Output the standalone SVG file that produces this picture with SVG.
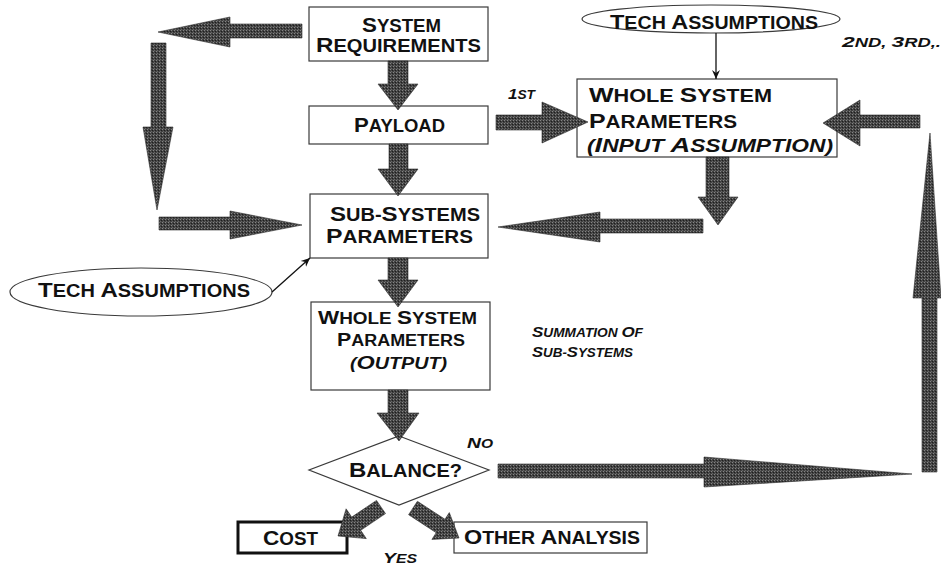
<svg xmlns="http://www.w3.org/2000/svg" width="941" height="566" viewBox="0 0 941 566">
  <defs>
    <!-- halftone-like grain for the block arrows -->
    <pattern id="grain" width="3" height="3" patternUnits="userSpaceOnUse">
      <rect width="3" height="3" fill="#424242"/>
      <rect x="0" y="0" width="1" height="1" fill="#858585"/>
      <rect x="2" y="1" width="1" height="1" fill="#1e1e1e"/>
      <rect x="1" y="2" width="1" height="1" fill="#666"/>
    </pattern>
    <marker id="tip" markerWidth="10" markerHeight="10" refX="9" refY="5" orient="auto" markerUnits="userSpaceOnUse">
      <path d="M0,1 L9,5 L0,9 L3,5 z" fill="#111"/>
    </marker>
  </defs>
  <style>
    .box { fill: #fff; stroke: #3a3a3a; stroke-width: 1.2; }
    .thick { fill: #fff; stroke: #111; stroke-width: 3; }
    .ell { fill: #fff; stroke: #3a3a3a; stroke-width: 1.2; }
    .t { font-family: "Liberation Sans", Arial, sans-serif; font-weight: bold; fill: #111; font-size: 17.5px; }
    .t .B { font-size: 21px; }
    .t.c { font-size: 16px; }
    .t.c .B { font-size: 19px; }
    .i { font-style: italic; }
    .sm { font-size: 12.5px; }
    .sm .B { font-size: 15.5px; }
    .blk { fill: url(#grain); stroke: #2e2e2e; stroke-width: 0.6; }
    .thin { stroke: #111; stroke-width: 1.3; fill: none; marker-end: url(#tip); }
  </style>

  <rect width="941" height="566" fill="#fff"/>

  <g id="system-requirements">
    <rect class="box" x="309" y="7" width="179" height="54"/>
    <text class="t" x="362" y="32" textLength="79" lengthAdjust="spacingAndGlyphs"><tspan class="B">S</tspan>YSTEM</text>
    <text class="t" x="316" y="52" textLength="165" lengthAdjust="spacingAndGlyphs"><tspan class="B">R</tspan>EQUIREMENTS</text>
  </g>

  <g id="payload">
    <rect class="box" x="309" y="106" width="179" height="38"/>
    <text class="t" x="354" y="132" textLength="91" lengthAdjust="spacingAndGlyphs"><tspan class="B">P</tspan>AYLOAD</text>
  </g>

  <g id="subsystems-parameters">
    <rect class="box" x="310" y="194" width="178" height="64"/>
    <text class="t" x="330" y="221" textLength="150" lengthAdjust="spacingAndGlyphs"><tspan class="B">S</tspan>UB-<tspan class="B">S</tspan>YSTEMS</text>
    <text class="t" x="326" y="243" textLength="147" lengthAdjust="spacingAndGlyphs"><tspan class="B">P</tspan>ARAMETERS</text>
  </g>

  <g id="whole-system-output">
    <rect class="box" x="311" y="302" width="179" height="88"/>
    <text class="t c" x="318" y="324" textLength="159" lengthAdjust="spacingAndGlyphs"><tspan class="B">W</tspan>HOLE <tspan class="B">S</tspan>YSTEM</text>
    <text class="t c" x="337" y="346" textLength="128" lengthAdjust="spacingAndGlyphs"><tspan class="B">P</tspan>ARAMETERS</text>
    <text class="t c i" x="350" y="369" textLength="97" lengthAdjust="spacingAndGlyphs">(<tspan class="B">O</tspan>UTPUT)</text>
  </g>

  <g id="summation-note">
    <text class="t i sm" x="532" y="337" textLength="111" lengthAdjust="spacingAndGlyphs"><tspan class="B">S</tspan>UMMATION <tspan class="B">O</tspan>F</text>
    <text class="t i sm" x="532" y="357" textLength="101" lengthAdjust="spacingAndGlyphs"><tspan class="B">S</tspan>UB-<tspan class="B">S</tspan>YSTEMS</text>
  </g>

  <g id="whole-system-input">
    <rect class="box" x="577" y="79" width="260" height="78"/>
    <text class="t" x="589" y="102" textLength="183" lengthAdjust="spacingAndGlyphs"><tspan class="B">W</tspan>HOLE <tspan class="B">S</tspan>YSTEM</text>
    <text class="t" x="589" y="128" textLength="148" lengthAdjust="spacingAndGlyphs"><tspan class="B">P</tspan>ARAMETERS</text>
    <text class="t i" x="587" y="152" textLength="246" lengthAdjust="spacingAndGlyphs">(<tspan class="B">I</tspan>NPUT <tspan class="B">A</tspan>SSUMPTION)</text>
  </g>

  <g id="tech-assumptions-top">
    <ellipse class="ell" cx="711" cy="19" rx="129" ry="14"/>
    <text class="t" x="610" y="29" textLength="208" lengthAdjust="spacingAndGlyphs"><tspan class="B">T</tspan>ECH <tspan class="B">A</tspan>SSUMPTIONS</text>
  </g>

  <g id="tech-assumptions-left">
    <ellipse class="ell" cx="141" cy="292" rx="131" ry="24"/>
    <text class="t" x="38" y="297" textLength="212" lengthAdjust="spacingAndGlyphs"><tspan class="B">T</tspan>ECH <tspan class="B">A</tspan>SSUMPTIONS</text>
  </g>

  <g id="balance">
    <polygon class="box" points="399,436 489,470 399,505 309,470"/>
    <text class="t" x="349" y="477" textLength="113" lengthAdjust="spacingAndGlyphs"><tspan class="B">B</tspan>ALANCE?</text>
  </g>

  <g id="cost">
    <rect class="thick" x="238" y="522" width="109" height="31"/>
    <text class="t" x="263" y="545" textLength="55" lengthAdjust="spacingAndGlyphs"><tspan class="B">C</tspan>OST</text>
  </g>

  <g id="other-analysis">
    <rect class="box" x="454" y="522" width="193" height="31"/>
    <text class="t" x="464" y="544" textLength="176" lengthAdjust="spacingAndGlyphs"><tspan class="B">O</tspan>THER <tspan class="B">A</tspan>NALYSIS</text>
  </g>

  <g id="connectors">
    <!-- block arrows -->
    <polygon class="blk" points="388,61 408,61 408,84 418,84 398,110 378,84 388,84"/>
    <polygon class="blk" points="389,144 408,144 408,169 418,169 398,196 378,169 389,169"/>
    <polygon class="blk" points="388,258 408,258 408,280 418,280 398,307 378,280 388,280"/>
    <polygon class="blk" points="388,390 408,390 408,413 419,413 399,441 377,413 388,413"/>
    <polygon class="blk" points="302,24 230,24 230,17 158,32 230,47 230,38 302,38"/>
    <polygon class="blk" points="151,43 166,43 166,127 173,127 157,210 143,127 151,127"/>
    <polygon class="blk" points="159,217 230,217 230,211 302,225 230,239 230,230 159,230"/>
    <polygon class="blk" points="496,115 542,115 542,102 588,122 542,143 542,130 496,130"/>
    <polygon class="blk" points="920,115 860,115 860,100 823,123 860,146 860,128 920,128"/>
    <polygon class="blk" points="706,157 729,157 729,197 738,197 718,225 698,197 706,197"/>
    <polygon class="blk" points="703,219 600,219 600,212 498,227 600,242 600,233 703,233"/>
    <polygon class="blk" points="498,464 704,464 704,457 912,474 704,487 704,478 498,478"/>
    <polygon class="blk" points="922,472 937,472 937,298 941,298 930,133 913,298 922,298"/>
    <polygon class="blk" points="385.5,513.6 376.5,500.4 351.7,517.1 346.1,508.8 338,536 366.3,538.6 360.7,530.3"/>
    <polygon class="blk" points="408.6,514.7 417.4,501.3 445,519.3 449.3,512.6 459,538 431.9,539.4 436.2,532.7"/>
    <!-- thin assumption arrows -->
    <line class="thin" x1="716" y1="33" x2="716" y2="79"/>
    <line class="thin" x1="272" y1="292" x2="310" y2="258"/>
    <!-- connector labels -->
    <text class="t i sm" x="508" y="99" textLength="27" lengthAdjust="spacingAndGlyphs"><tspan class="B">1</tspan>ST</text>
    <text class="t i sm" x="842" y="47" textLength="99" lengthAdjust="spacingAndGlyphs"><tspan class="B">2</tspan>ND, <tspan class="B">3</tspan>RD,.</text>
    <text class="t i sm" x="467" y="448" textLength="26" lengthAdjust="spacingAndGlyphs"><tspan class="B">N</tspan>O</text>
    <text class="t i sm" x="383" y="563" textLength="34" lengthAdjust="spacingAndGlyphs"><tspan class="B">Y</tspan>ES</text>
  </g>
</svg>
